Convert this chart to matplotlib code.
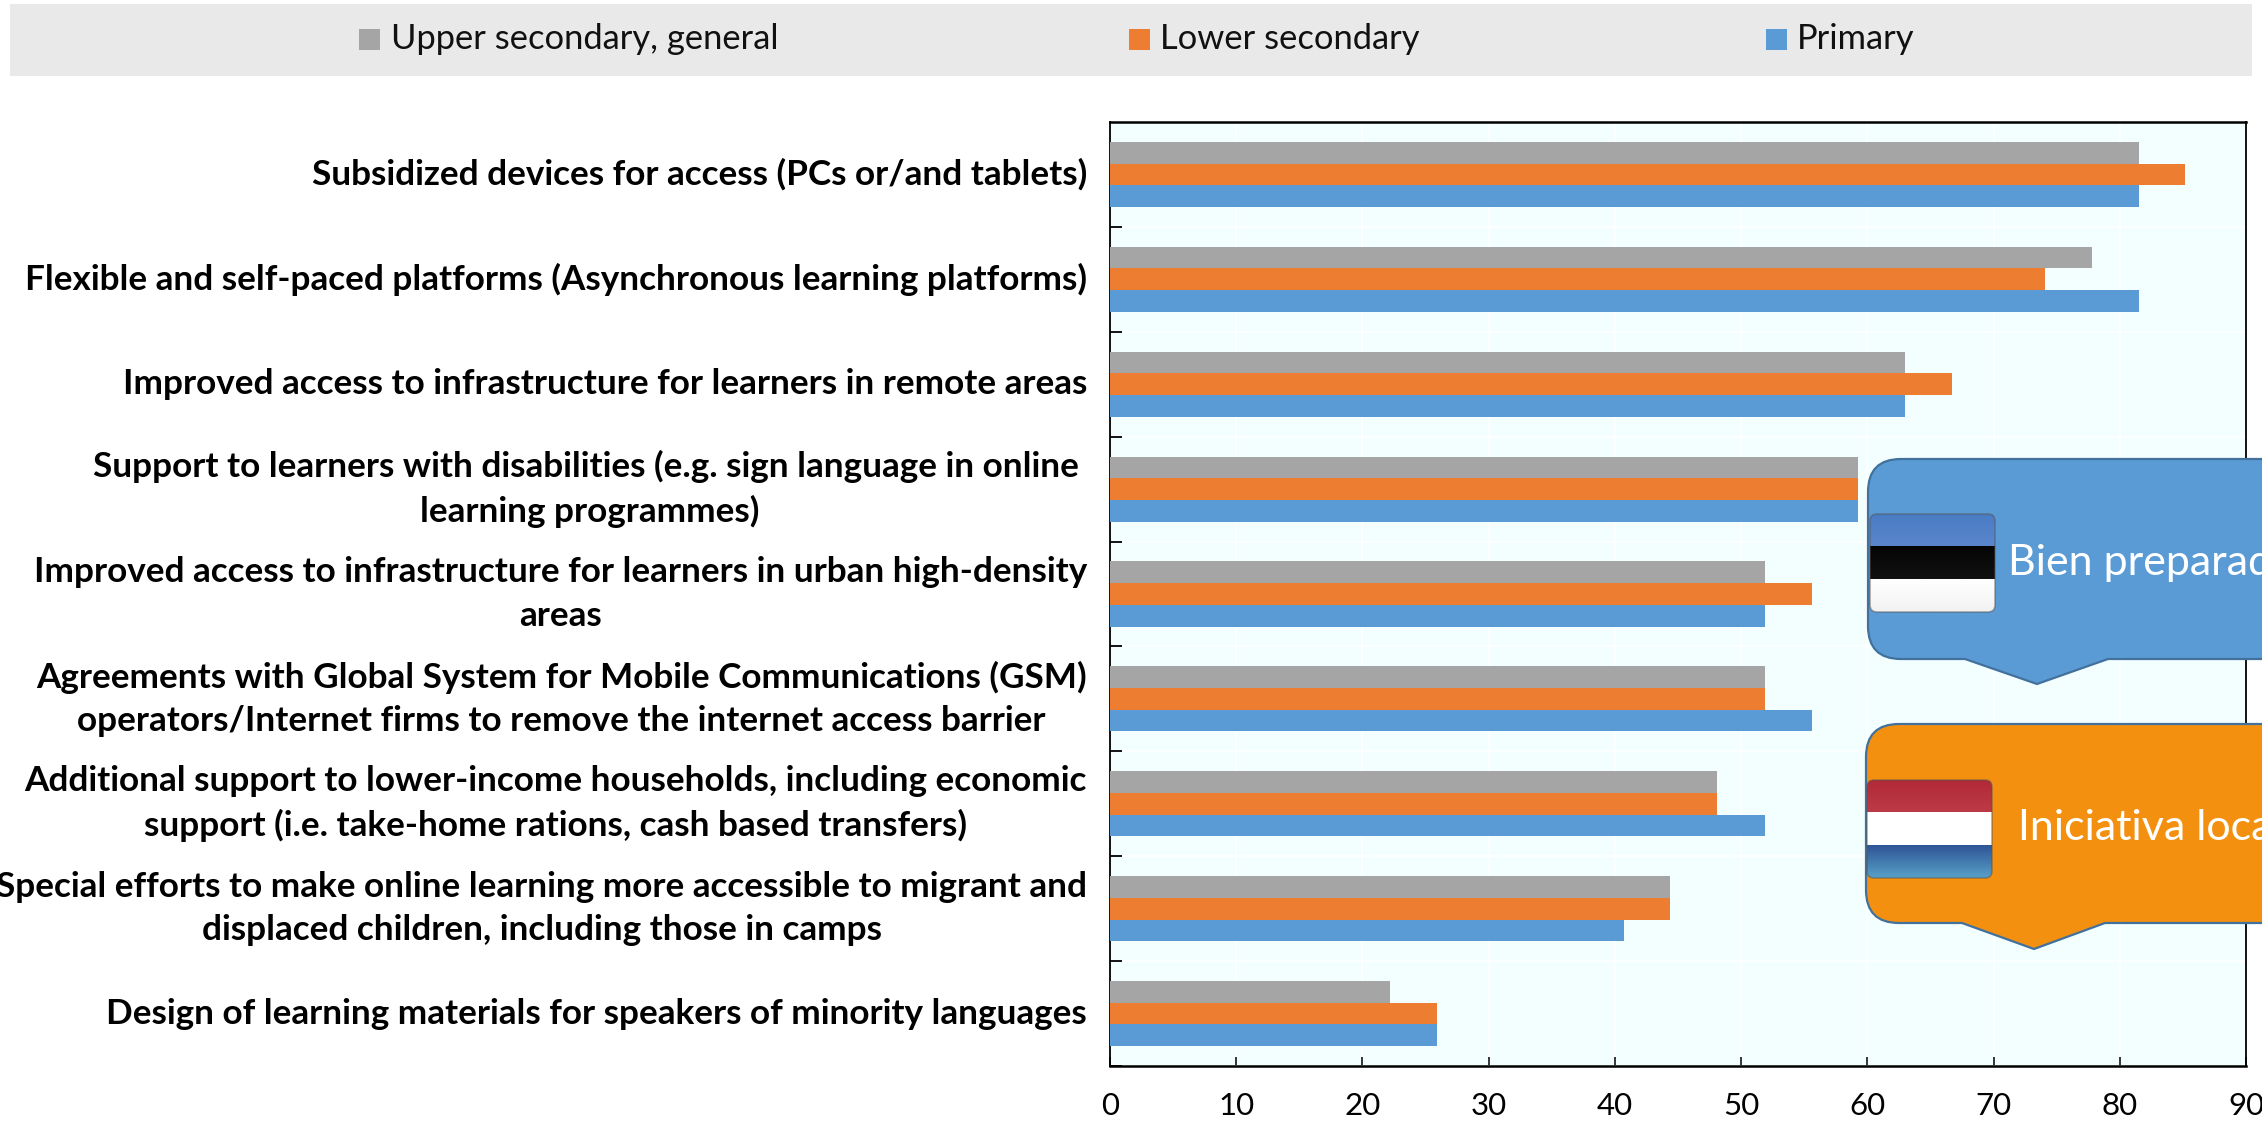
import numpy as np
import matplotlib
matplotlib.use("Agg")
import matplotlib.pyplot as plt
from matplotlib.patches import FancyBboxPatch, PathPatch, Rectangle
from matplotlib.path import Path

plt.rcParams['font.family'] = ['Lato', 'DejaVu Sans']

categorias = [
    "Subsidized devices for access (PCs or/and tablets)",
    "Flexible and self-paced platforms (Asynchronous learning platforms)",
    "Improved access to infrastructure for learners in remote areas",
    "Support to learners with disabilities (e.g. sign language in online \nlearning programmes)",
    "Improved access to infrastructure for learners in urban high-density\nareas",
    "Agreements with Global System for Mobile Communications (GSM)\noperators/Internet firms to remove the internet access barrier",
    "Additional support to lower-income households, including economic\nsupport (i.e. take-home rations, cash based transfers)",
    "Special efforts to make online learning more accessible to migrant and\ndisplaced children, including those in camps",
    "Design of learning materials for speakers of minority languages",
]
upper = [81.5, 77.8, 63.0, 59.3, 51.9, 51.9, 48.1, 44.4, 22.2]
lower = [85.2, 74.1, 66.7, 59.3, 55.6, 51.9, 48.1, 44.4, 25.9]
primary = [81.5, 81.5, 63.0, 59.3, 51.9, 55.6, 51.9, 40.7, 25.9]
xticks = [0, 10, 20, 30, 40, 50, 60, 70, 80, 90]

GRIS, NARANJA, AZUL = "#A5A5A5", "#ED7D31", "#5B9BD5"
W, H = 2262, 1122

fig = plt.figure(figsize=(W / 100, H / 100), dpi=100, facecolor="white")
ax = fig.add_axes([1110 / W, 1 - 1066 / H, 1136 / W, 944 / H])
ax.set_facecolor("#F3FFFF")

y = np.arange(len(categorias))
alto = 0.207
ax.barh(y - alto, upper, alto, color=GRIS, zorder=3)
ax.barh(y, lower, alto, color=NARANJA, zorder=3)
ax.barh(y + alto, primary, alto, color=AZUL, zorder=3)

ax.set_xlim(0, 90)
ax.set_ylim(len(categorias) - 0.5, -0.5)
ax.set_xticks(xticks)
ax.set_yticks(y + 0.5)
ax.set_yticklabels([])
ax.grid(True, color="white", lw=1.2, zorder=1)
ax.tick_params(axis="x", direction="in", length=6.5, width=1.1, pad=18.5, labelsize=22.5)
ax.tick_params(axis="y", direction="in", length=8.5, width=1.3)
ax.spines["top"].set_linewidth(1.8)
ax.spines["bottom"].set_linewidth(1.8)
ax.spines["left"].set_linewidth(1.3)
ax.spines["right"].set_linewidth(1.3)

for i, cat in enumerate(categorias):
    ax.annotate(cat, xy=(0, i), xycoords=("axes fraction", "data"), xytext=(-23, 0),
                textcoords="offset pixels", ha="right", va="center", fontsize=25.25,
                fontweight="bold", multialignment="center", linespacing=1.44)

# capa en pixeles para leyenda y globos
capa = fig.add_axes([0, 0, 1, 1], zorder=5)
capa.set_xlim(0, W)
capa.set_ylim(H, 0)
capa.axis("off")
capa.patch.set_alpha(0)

capa.add_patch(Rectangle((10, 4), 2242, 72, color="#E9E9E9", lw=0))
for mx, tx, color, texto in [(359, 391, GRIS, "Upper secondary, general"),
                             (1129, 1160, NARANJA, "Lower secondary"),
                             (1766, 1797, AZUL, "Primary")]:
    capa.add_patch(Rectangle((mx, 29), 21, 21, color=color, lw=0))
    capa.text(tx, 39, texto, fontsize=24.8, va="center", ha="left", color="#111111")


def globo(x0, y0, y1, tip_x, tip_y, color):
    r = 33
    x1 = 2320
    verts = [(x0 + r, y0), (x1, y0), (x1, y1), (tip_x + 71, y1), (tip_x, tip_y),
             (tip_x - 72, y1), (x0 + r, y1), (x0, y1), (x0, y1 - r), (x0, y0 + r),
             (x0, y0), (x0 + r, y0), (x0 + r, y0)]
    codes = [Path.MOVETO, Path.LINETO, Path.LINETO, Path.LINETO, Path.LINETO,
             Path.LINETO, Path.LINETO, Path.CURVE3, Path.CURVE3, Path.LINETO,
             Path.CURVE3, Path.CURVE3, Path.CLOSEPOLY]
    capa.add_patch(PathPatch(Path(verts, codes), facecolor=color, edgecolor="#41719C", lw=1.6))


def bandera(x, y0, colores):
    ancho, alto_f = 125, 98
    marco = FancyBboxPatch((x + 4, y0 + 4), ancho - 8, alto_f - 8,
                           boxstyle="round,pad=4,rounding_size=7", facecolor="none", edgecolor="none")
    capa.add_patch(marco)
    for k, (c1, c2) in enumerate(colores):
        grad = np.linspace(0, 1, 32)[:, None, None]
        c1 = np.array(matplotlib.colors.to_rgb(c1))
        c2 = np.array(matplotlib.colors.to_rgb(c2))
        img = c1 * (1 - grad) + c2 * grad
        im = capa.imshow(img, extent=(x, x + ancho, y0 + (k + 1) * alto_f / 3, y0 + k * alto_f / 3),
                         aspect="auto", zorder=3, interpolation="bilinear")
        im.set_clip_path(marco)
    capa.add_patch(FancyBboxPatch((x + 4, y0 + 4), ancho - 8, alto_f - 8,
                                  boxstyle="round,pad=4,rounding_size=7", facecolor="none",
                                  edgecolor="#55555580", lw=1.2, zorder=4))


globo(1868, 459, 659, 2037, 684, AZUL)
bandera(1870, 514, [("#4A7CC4", "#5A86CC"), ("#050505", "#111111"), ("#FFFFFF", "#F2F2F2")])
capa.text(2008, 575, "Bien preparado", color="white", fontsize=31, va="baseline", ha="left", clip_on=True)

globo(1866, 724, 923, 2034, 949, "#F4900F")
bandera(1867, 780, [("#B22A38", "#BC3A46"), ("#FFFFFF", "#FFFFFF"), ("#2F5596", "#57A0C8")])
capa.text(2018, 840, "Iniciativa local", color="white", fontsize=31, va="baseline", ha="left", clip_on=True)

capa.set_xlim(0, W)
capa.set_ylim(H, 0)

fig.savefig("out.png", dpi=100)
plt.close(fig)
